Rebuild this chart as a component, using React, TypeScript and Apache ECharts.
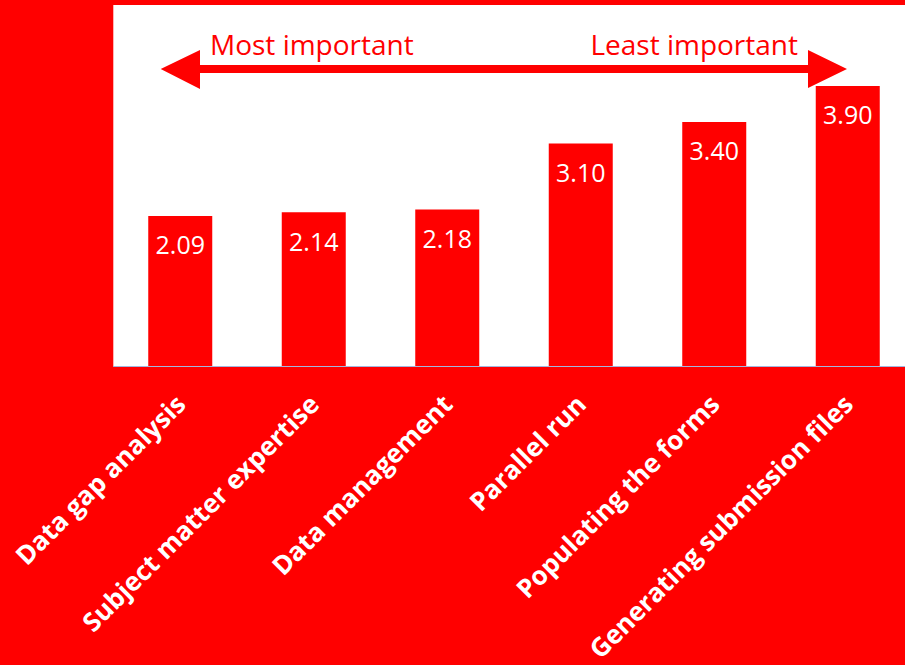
import React, { useEffect, useRef } from "react";
import * as echarts from "echarts";

const categories = [
  "Data gap analysis",
  "Subject matter expertise",
  "Data management",
  "Parallel run",
  "Populating the forms",
  "Generating submission files",
];
const values = [2.09, 2.14, 2.18, 3.1, 3.4, 3.9];
const leftNote = "Most important";
const rightNote = "Least important";

const RED = "#FF0000";

export default function App() {
  const ref = useRef<HTMLDivElement>(null);
  useEffect(() => {
    if (!ref.current) return;
    const chart = echarts.init(ref.current, null, { renderer: "svg" });
    chart.setOption({
      animation: false,
      backgroundColor: RED,
      grid: {
        left: 113.5,
        top: 7,
        width: 801,
        height: 359,
        containLabel: false,
        outerBoundsMode: "none",
      },
      xAxis: {
        type: "category",
        data: categories,
        axisLine: { show: true, lineStyle: { color: "#A3B6DD", width: 1 } },
        axisTick: { show: false },
        axisLabel: {
          rotate: 45,
          margin: 33,
          color: "#FFFFFF",
          fontFamily: "Open Sans",
          fontWeight: "bold",
          fontSize: 26,
          interval: 0,
        },
      },
      yAxis: {
        type: "value",
        min: 0,
        max: 5,
        show: false,
        splitLine: { show: false },
      },
      graphic: [
        {
          type: "rect",
          z: -10,
          shape: { x: 113.3, y: 5, width: 810, height: 361 },
          style: { fill: "#FFFFFF" },
          silent: true,
        },
        {
          type: "polygon",
          z: 10,
          shape: {
            points: [
              [160.7, 69],
              [200, 50],
              [200, 65],
              [808, 65],
              [808, 50],
              [847, 69],
              [808, 88],
              [808, 73],
              [200, 73],
              [200, 89],
            ],
          },
          style: { fill: RED },
        },
        {
          type: "text",
          z: 10,
          x: 210,
          y: 44,
          style: {
            text: leftNote,
            fill: RED,
            font: "28px 'Open Sans'",
            align: "left",
            verticalAlign: "middle",
          },
        },
        {
          type: "text",
          z: 10,
          x: 798,
          y: 44,
          style: {
            text: rightNote,
            fill: RED,
            font: "28px 'Open Sans'",
            align: "right",
            verticalAlign: "middle",
          },
        },
      ],
      series: [
        {
          type: "bar",
          data: values,
          barWidth: 64,
          itemStyle: { color: RED },
          label: {
            show: true,
            position: "insideTop",
            distance: 16,
            color: "#FFFFFF",
            fontFamily: "Open Sans",
            fontSize: 25,
            formatter: (p: any) => Number(p.value).toFixed(2),
          },
        },
      ],
    });
    return () => chart.dispose();
  }, []);
  return (
    <div
      ref={ref}
      style={{ position: "absolute", left: 0, top: 0, width: 905, height: 665 }}
    />
  );
}
